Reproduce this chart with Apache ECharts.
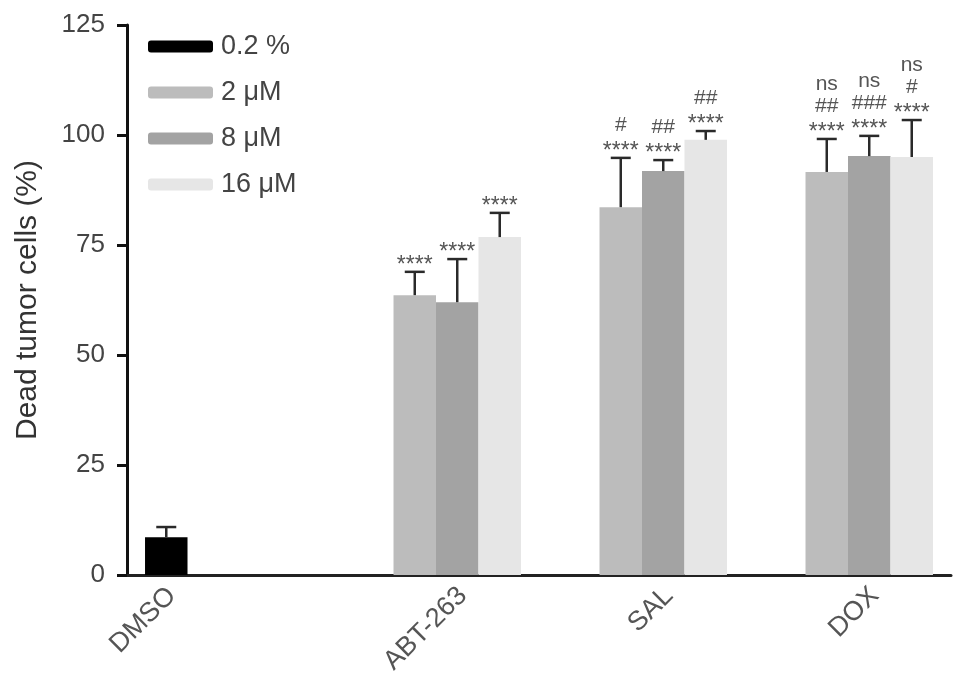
<!DOCTYPE html>
<html>
<head>
<meta charset="utf-8">
<script src="https://cdn.jsdelivr.net/npm/echarts@6/dist/echarts.min.js"></script>
<style>
  html, body { margin: 0; padding: 0; background: #fff; }
  #main { width: 969px; height: 691px; }
</style>
</head>
<body>
<div id="main"></div>
<script>
// data
var categories = ['DMSO', 'ABT-263', 'SAL', 'DOX'];
var seriesNames = ['0.2 %', '2 μM', '8 μM', '16 μM'];
var seriesColors = ['#000000', '#bcbcbc', '#a3a3a3', '#e6e6e6'];

var vehicle = [8.6, '-', '-', '-'];
var mean2 = ['-', 63.6, 83.6, 91.6];
var mean8 = ['-', 62.0, 91.8, 95.2];
var mean16 = ['-', 76.8, 98.9, 95.0];

var sdVehicle = [2.3, 0, 0, 0];
var sd2 = [0, 5.3, 11.2, 7.5];
var sd8 = [0, 9.8, 2.5, 4.6];
var sd16 = [0, 5.5, 2.0, 8.4];

// significance marks, bottom row first
var sigVehicle = [[], [], [], []];
var sig2 = [[], ['****'], ['****', '#'], ['****', '##', 'ns']];
var sig8 = [[], ['****'], ['****', '##'], ['****', '###', 'ns']];
var sig16 = [[], ['****'], ['****', '##'], ['****', '#', 'ns']];

var yTicks = [0, 25, 50, 75, 100, 125];

var means = [vehicle, mean2, mean8, mean16];
var sds = [sdVehicle, sd2, sd8, sd16];
var sigs = [sigVehicle, sig2, sig8, sig16];

var FONT = '"Liberation Sans", Arial, Helvetica, sans-serif';
var catGap = 0.175;

function slotX(api, c, s) {
    var band = api.size([1, 0])[0];
    var group = band * (1 - catGap);
    var slot = group / means.length;
    var base = api.coord([c, 0]);
    return base[0] - group / 2 + slot * (s + 0.5);
}

var errData = [];
for (var s = 0; s < means.length; s++) {
    for (var c = 0; c < categories.length; c++) {
        if (means[s][c] !== '-') {
            errData.push([c, means[s][c] + sds[s][c], s, means[s][c]]);
        }
    }
}

var barSeries = means.map(function (m, i) {
    return {
        name: seriesNames[i],
        type: 'bar',
        data: m,
        barGap: '0%',
        barCategoryGap: (catGap * 100) + '%',
        itemStyle: { color: seriesColors[i] },
        emphasis: { disabled: true }
    };
});

var chart = echarts.init(document.getElementById('main'));

var option = {
    backgroundColor: '#fff',
    animation: false,
    grid: { left: 127, right: 18, top: 25, bottom: 116 },
    legend: {
        data: seriesNames,
        orient: 'vertical',
        left: 143,
        top: 28,
        itemWidth: 65,
        itemHeight: 12,
        itemGap: 19,
        selectedMode: false,
        textStyle: { fontSize: 27, color: '#444', fontFamily: FONT, padding: [0, 0, 0, 3] }
    },
    xAxis: {
        type: 'category',
        data: categories,
        axisLine: { lineStyle: { color: '#222', width: 3 } },
        axisTick: { show: false },
        axisLabel: { show: false }
    },
    yAxis: {
        type: 'value',
        min: yTicks[0],
        max: yTicks[yTicks.length - 1],
        interval: yTicks[1] - yTicks[0],
        name: 'Dead tumor cells (%)',
        nameLocation: 'middle',
        nameGap: 84,
        nameTextStyle: { fontSize: 30, color: '#333', fontFamily: FONT },
        axisLine: { show: true, lineStyle: { color: '#111', width: 3 } },
        axisTick: { show: true, length: 10, lineStyle: { color: '#111', width: 3 } },
        axisLabel: { fontSize: 26, color: '#444', margin: 22, fontFamily: FONT },
        splitLine: { show: false }
    },
    series: barSeries.concat([
        {
            // error bars with significance marks
            type: 'custom',
            data: errData,
            encode: { x: 0, y: 1 },
            z: 5,
            silent: true,
            renderItem: function (params, api) {
                var c = api.value(0), s = api.value(2);
                var x = slotX(api, c, s);
                var yTop = api.coord([c, api.value(1)])[1];
                var yMean = api.coord([c, api.value(3)])[1];
                var stroke = { stroke: '#2a2a2a', lineWidth: 2.5 };
                var kids = [
                    { type: 'line', shape: { x1: x, y1: yMean, x2: x, y2: yTop }, style: stroke },
                    { type: 'line', shape: { x1: x - 10, y1: yTop, x2: x + 10, y2: yTop }, style: stroke }
                ];
                var rows = sigs[s][c];
                for (var i = 0; i < rows.length; i++) {
                    var star = rows[i].charAt(0) === '*';
                    var adj = star ? 6 : (rows[i] === 'ns' ? -1 : 0);
                    kids.push({
                        type: 'text',
                        x: x,
                        y: yTop - 12 - 21 * i + adj,
                        style: {
                            text: rows[i], align: 'center', verticalAlign: 'middle',
                            fontSize: star ? 23 : 21, fontFamily: FONT, fill: '#555'
                        }
                    });
                }
                return { type: 'group', children: kids };
            }
        },
        {
            // category labels sit under the bars that carry data
            type: 'custom',
            data: categories.map(function (n, i) { return [i, 0]; }),
            encode: { x: 0, y: 1 },
            silent: true,
            renderItem: function (params, api) {
                var c = api.value(0);
                var used = [];
                means.forEach(function (m, s) { if (m[c] !== '-') used.push(s); });
                var avg = used.reduce(function (a, b) { return a + b; }, 0) / used.length;
                var x0 = slotX(api, c, 0), x1 = slotX(api, c, 1);
                var x = x0 + (x1 - x0) * avg;
                var y = api.coord([c, 0])[1];
                return {
                    type: 'text',
                    x: x - 4,
                    y: y + 7,
                    rotation: Math.PI / 4,
                    style: {
                        text: categories[c], align: 'right', verticalAlign: 'top',
                        fontSize: 27, fontFamily: FONT, fill: '#555'
                    }
                };
            }
        }
    ])
};

chart.setOption(option);
</script>
</body>
</html>
